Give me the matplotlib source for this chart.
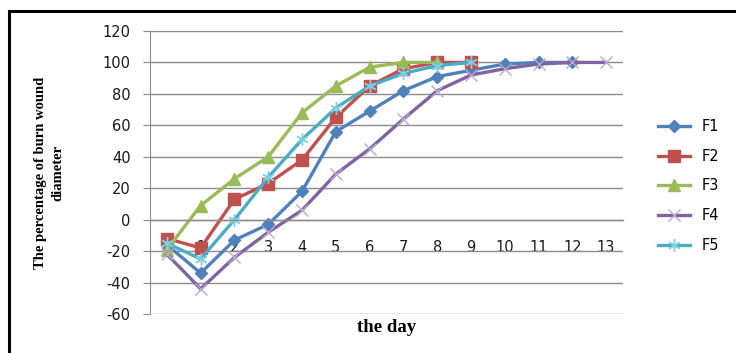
import matplotlib
matplotlib.use("Agg")
import matplotlib.pyplot as plt
from matplotlib.patches import Rectangle

plt.rcParams["axes.unicode_minus"] = False

days = list(range(14))
day_labels = [str(d) for d in days]

F1 = [-16, -34, -13, -3, 18, 56, 69, 82, 91, 95, 99, 100, 100]
F2 = [-12, -18, 13, 23, 38, 65, 85, 96, 100, 100]
F3 = [-19, 9, 26, 40, 68, 85, 97, 100, 100]
F4 = [-22, -44, -24, -8, 6, 29, 45, 64, 82, 92, 96, 99, 100, 100]
F5 = [-15, -25, 0, 27, 51, 71, 85, 93, 98, 100]

series = [("F1", F1), ("F2", F2), ("F3", F3), ("F4", F4), ("F5", F5)]
colors = ["#4F81BD", "#C0504D", "#9BBB59", "#8064A2", "#4BACC6"]
markers = ["D", "s", "^", "x", (6, 2, 0)]
msizes = [6, 9, 8, 9, 9]

fig = plt.figure(figsize=(7.36, 3.53), dpi=100)
ax = fig.add_axes([150/736, 1-314/353, 473/736, 283/353])

for (name, vals), c, m, ms in zip(series, colors, markers, msizes):
    x = days[:len(vals)]
    if m in ("x",) or isinstance(m, tuple):
        ax.plot(x, vals, color=c, lw=2.4, marker=m, ms=ms, mew=1.0,
                mec="#b9a9d0" if name == "F4" else "#7fd0e4", label=name)
    else:
        ax.plot(x, vals, color=c, lw=2.4, marker=m, ms=ms, mec=c, mfc=c, label=name)

ax.set_xlim(-0.5, 13.5)
ax.set_ylim(-60, 120)
ax.set_yticks(range(-60, 121, 20))
ax.set_xticks(days)
ax.set_xticklabels(day_labels)
ax.yaxis.grid(True, color="#8c8c8c", lw=1)
ax.set_axisbelow(True)
for s in ["top", "right"]:
    ax.spines[s].set_visible(False)
ax.spines["left"].set_color("#8c8c8c")
ax.spines["bottom"].set_position(("data", 0))
ax.spines["bottom"].set_color("#8c8c8c")
ax.spines["bottom"].set_linewidth(1)
ax.tick_params(axis="x", length=0, pad=14.5, labelsize=10.5, colors="#1a1a1a")
ax.tick_params(axis="y", length=5, color="#8c8c8c", pad=9, labelsize=10.5, labelcolor="#1a1a1a")

ax.set_ylabel("The percentage of burn wound\ndiameter", fontfamily="Liberation Serif",
              fontweight="bold", fontsize=10.5, linespacing=1.35)
ax.yaxis.set_label_coords(-0.182, 0.5)
fig.text(387/736, 1-328/353, "the day", fontfamily="Liberation Serif", fontweight="bold",
         fontsize=13.5, ha="center", va="center")

leg = fig.legend(loc="center left", bbox_to_anchor=(645/736, 1-186/353), frameon=False,
                 fontsize=10.5, labelspacing=1.0, handlelength=2.2, handletextpad=0.8)

fig.patches.append(Rectangle((9/736, -0.2), 1.2, 1.2 - 11/353, transform=fig.transFigure,
                             fill=False, ec="black", lw=2.2))

fig.savefig("out.png", dpi=100)
